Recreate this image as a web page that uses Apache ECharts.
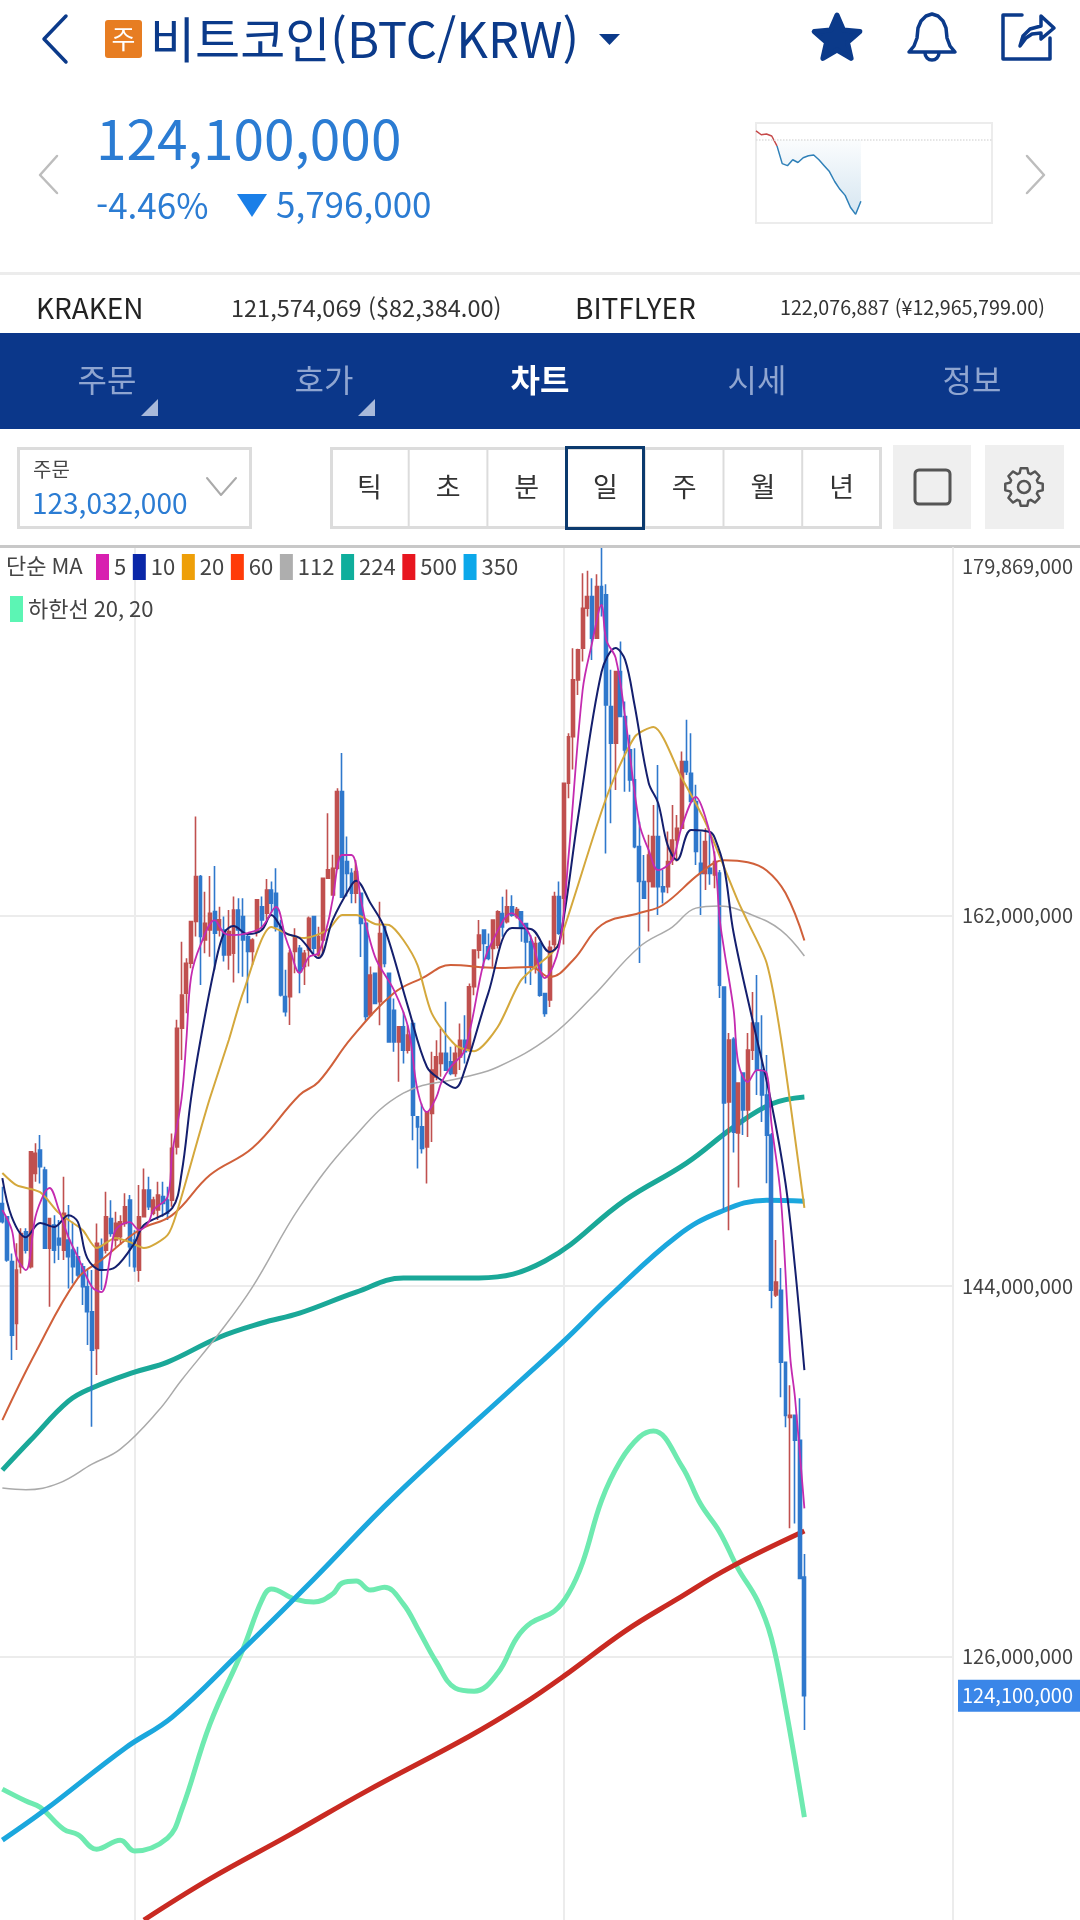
<!DOCTYPE html>
<html lang="ko">
<head>
<meta charset="utf-8">
<title>BTC/KRW</title>
<script src="https://cdn.jsdelivr.net/npm/echarts@6/dist/echarts.min.js"></script>
<style>
  html, body { margin: 0; background: #fff; }
  #chart { width: 1080px; height: 1920px; }
</style>
</head>
<body>
<div id="chart"></div>
<script>
// prices are in millions of KRW
const opens = [
  148.02,147.37,145.19,142.19,144.94,146.64,144.94,149.48,150.61,149.64,
  145.84,146.97,146.32,145.75,146.24,145.75,145.43,144.94,143.97,142.76,
  140.97,145.92,145.75,147.29,146.24,146.4,147.05,148.18,146.24,144.78,
  147.37,148.67,147.54,147.7,148.35,148.18,148.18,150.76,156.53,158.23,
  159.69,161.72,163.9,160.82,161.31,162.2,161.31,161.31,160.1,160.18,
  162.28,161.96,160.99,160.26,161.23,162.44,162.12,163.25,163.09,161.47,
  158.07,158.07,160.26,160.42,159.53,160.34,161.96,160.1,160.82,163.82,
  163.01,164.31,168.03,164.63,164.06,163.09,163.09,161.63,157.18,159.2,
  157.82,161.46,159.2,157.41,155.87,156.6,155.47,156.76,152.23,151.74,
  150.77,152.39,154.17,154.82,155.31,154.9,154.33,155.14,155.95,155.47,
  158.55,160.33,161.3,160.49,160.41,160.57,162.11,161.71,162.43,161.97,
  162.19,161.62,160.73,159.44,160.65,158.22,157.91,160.6,162.93,162.85,
  168.44,170.7,173.46,175,176.94,177.51,175.48,178,177.59,172.16,
  170.38,173.86,171.68,170.06,168.6,165.36,163.66,163.66,163.41,165.85,
  163.41,163.41,164.71,165.68,166.25,169.49,168.92,167.55,164.55,164.06,
  164.31,163.98,164.08,158.53,152.95,155.99,151.44,154.36,152.56,155.47,
  156.78,154.5,153.29,151.34,143.57,143.8,140.3,137.62,137.72,136.51,129.86
];
const closes = [
  147.13,145.27,141.62,144.78,146.56,145.75,150.53,150.45,149.8,145.84,
  147.29,145.75,146,147.54,145.43,144.94,144.54,143.97,142.76,140.89,
  146.08,144.78,147.37,146.56,147.05,147.13,147.86,145.92,144.94,147.37,
  148.67,147.86,148.18,148.43,148.02,147.54,150.7,156.53,158.15,159.69,
  161.72,163.9,160.99,161.63,162.12,161.15,161.8,160.1,161.23,162.28,
  161.31,160.82,160.26,160.82,162.77,161.8,163.25,162.61,161.47,158.15,
  157.34,160.18,160.99,159.28,160.18,161.88,160.42,160.99,163.82,164.23,
  164.31,168.03,162.9,164.06,163.09,164.15,161.63,157.1,159.12,157.74,
  161.14,159.68,155.87,155.87,156.6,155.47,156.2,152.31,151.74,150.69,
  152.47,154.5,155.14,155.31,154.5,154.33,155.31,155.95,155.39,158.55,
  160.33,161.06,160.65,159.92,161.79,162.19,161.46,162.43,162.03,162.3,
  161.46,160.73,159.52,160.65,158.14,157.25,160.46,162.93,161.15,168.44,
  170.7,173.46,174.92,176.94,177.51,175.48,178,177.1,172.24,170.38,
  173.86,171.68,170.06,168.6,165.36,163.66,162.85,164.95,165.85,163.41,
  163.17,164.63,165.68,166.25,169.49,169,167.55,165.12,164.06,165.6,
  164.06,164.63,158.63,152.9,155.96,151.48,153.87,152.56,155.47,156.78,
  154.5,153.29,151.34,143.8,144.2,140.3,137.72,137.72,136.51,129.8,124.1
];
const lows = [
  147.05,145.19,140.41,140.9,144.62,145.59,144.86,149.07,148.99,145.84,
  143,145.11,145.27,145.27,143.89,144.13,144.46,143.08,141.14,137.17,
  139.68,143.81,145.59,146.4,145.92,146,146.89,144.94,144.7,144.21,
  147.37,147.7,147.45,147.21,147.37,147.21,147.86,150.4,154.99,157.26,
  159.45,160.99,158.64,160.18,160.01,159.37,160.99,159.77,159.37,158.75,
  159.2,159.04,157.75,159.61,160.99,161.31,161.8,162.12,161.23,158.07,
  157.1,156.69,159.2,158.23,158.64,159.53,160.09,160.01,160.18,163.8,
  163.01,164.23,162.9,162.93,162.61,162.61,160,156.9,157.1,157.74,
  156.68,159.5,155.87,155.39,153.93,154.82,155.31,151.09,149.72,150.45,
  148.99,151.01,154,154.17,154.5,154.25,154.17,154.5,154.82,155.39,
  158.14,159.92,159.44,159.84,159.52,160.41,160.98,161.62,161.95,161.87,
  160.73,158.71,158.63,159.19,158.06,157.09,157.56,160.3,161.07,160.6,
  167.71,169.1,172.73,174.35,176.54,174.43,175.48,176.54,165.03,166.49,
  168.11,171.68,168.03,168.03,165.28,159.7,162.85,161.23,163.41,162.04,
  162.6,163.09,164.47,164.63,166.25,168.84,167.55,164.47,162.04,163.25,
  163.5,163.33,158,147.7,146.72,150.5,148.8,151.34,151.25,154.99,
  153.29,151.98,149,142.93,143.47,138.6,137.15,132.24,132.47,129.8,122.43
];
const highs = [
  148.83,147.37,145.59,146.08,146.81,146.81,150.53,150.94,151.34,149.8,
  147.29,147.45,147.21,149.32,147.94,147.13,145.92,145.11,144.78,144.78,
  147.05,146.32,148.59,148.18,147.62,147.45,148.51,148.43,146.72,148.91,
  149.72,149.32,148.35,149.07,149.07,148.83,151.42,156.94,160.74,159.93,
  161.72,166.82,163.98,163.17,163.93,164.42,162.44,161.96,162.28,162.93,
  162.85,162.85,161.15,160.9,162.77,162.93,163.79,163.66,164.31,161.8,
  159.37,160.34,161.39,160.58,160.34,161.96,161.96,161.47,163.82,166.98,
  164.96,168.2,169.91,165.85,164.31,164.71,163.09,161.63,159.53,159.2,
  162.68,161.46,159.2,157.98,156.6,157.33,156.68,156.93,152.23,152.88,
  152.47,155.39,155.95,156.52,157.82,155.63,155.71,156.76,157.17,158.71,
  160.33,161.79,161.3,161.14,161.79,162.27,162.92,163.28,163,162.43,
  162.19,161.62,161.06,160.98,160.73,158.22,160.8,163.17,163.66,168.44,
  170.87,175,174.97,178.64,178.76,178.4,178.59,179.869,178.11,173.95,
  173.86,175.32,172.41,170.79,170.14,166.57,164.95,165.93,167.38,169.33,
  164.22,166.09,167.38,166.9,169.98,171.52,170.87,168.36,166.09,166.25,
  166.09,165.12,164.22,158.53,156.3,156.1,153.87,154.4,156.3,158.29,
  159.12,157.17,155.23,151.44,146.24,144.88,140.3,139.18,137.72,138.55,130.98
];

// moving averages, read as [candle index, price]
const ma5 = [[0,147.7],[2,146.73],[3,145.42],[5,144.78],[7,147.36],[9,148.57],[10,148.77],[12,147.7],[14,146.38],[16,145.42],
  [19,143.96],[21,143.71],[23,145.61],[24,146.73],[27,147.11],[29,146.73],[31,147.11],[32,147.7],[35,148.33],[36,150.47],
  [38,153.14],[39,155.96],[40,159.02],[42,160.58],[45,161.79],[47,161.16],[49,161.06],[52,161.16],[55,161.45],[58,162.43],
  [60,160.97],[61,160.33],[63,159.22],[65,160],[67,160.19],[69,161.65],[70,162.77],[72,164.95],[74,164.95],[75,164.46],
  [76,162.77],[79,160],[83,158.39],[86,156.59],[88,153.53],[90,152.46],[92,153.19],[93,153.87],[95,154.65],[98,155.47],
  [102,159.7],[104,160.82],[108,162.13],[110,161.7],[112,160.97],[115,158.97],[118,160.48],[120,164.86],[123,172.97],[125,175.25],
  [127,177.1],[128,175.4],[130,174.52],[132,171.66],[135,166.5],[137,165.19],[139,164.22],[142,164.71],[144,166.32],[147,167.77],
  [149,166.8],[151,164.86],[152,161.94],[153,160.33],[155,157.42],[156,154.84],[158,153.92],[160,154.5],[162,154.36],[163,151.93],
  [165,148.33],[167,140.55],[168,138.6],[170,133.2]];
const ma10 = [[0,149.25],[2,147.36],[5,146.38],[8,147.07],[11,146.88],[14,147.45],[16,147.12],[18,145.36],[21,144.78],[24,144.93],
  [28,146.09],[30,146.97],[36,147.79],[38,149.5],[40,153.14],[42,155.96],[45,159.51],[47,161.16],[49,161.5],[52,161.11],
  [55,161.31],[57,162.03],[60,161.16],[63,160.92],[67,159.94],[70,161.79],[74,163.49],[75,163.7],[78,162.62],[81,161.4],
  [86,157.56],[90,154.65],[93,154.02],[96,153.63],[98,154.5],[103,158.24],[108,161.4],[112,161.36],[116,160.24],[118,160.67],
  [122,166.75],[127,173.84],[130,175.01],[132,174.43],[134,172.24],[137,168.45],[139,167.48],[141,165.44],[143,164.71],[146,166.17],
  [150,166.07],[151,165.78],[153,164.32],[155,161.16],[159,156.93],[163,152.9],[166,149],[168,144.93],[170,139.92]];
const ma20 = [[0,149.5],[3,148.91],[8,148.57],[12,147.55],[17,146.73],[20,145.85],[24,146.34],[27,146.14],[30,145.85],[35,146.48],
  [37,147.6],[42,151.59],[44,153.14],[48,155.96],[51,158.24],[57,161.45],[61,161.06],[64,160.92],[69,161.31],[72,162.03],
  [75,162.03],[79,161.6],[82,161.55],[85,160.82],[88,159.6],[91,157.27],[96,155.72],[100,155.42],[105,156.59],[110,158.88],
  [116,160.09],[118,160.67],[128,167.72],[134,170.68],[138,171.17],[144,168.69],[149,166.55],[156,162.67],[158,161.7],[162,159.7],
  [165,156.1],[170,147.8]];
const ma60 = [[0,137.49],[7,140.75],[16,144.39],[21,145.27],[29,146.73],[36,147.45],[44,149.4],[53,150.71],[63,153.29],[67,153.92],
  [74,156.06],[83,158.24],[89,158.97],[95,159.6],[105,159.46],[112,159.51],[116,159.02],[121,159.85],[127,161.55],[135,162.13],
  [140,162.52],[148,164.08],[153,164.7],[158,164.6],[162,164.2],[166,163.1],[170,160.8]];
const ma112 = [[0,134.19],[5,134.11],[12,134.43],[19,135.35],[25,136.08],[33,137.93],[38,139.44],[46,141.72],[53,143.95],[63,147.84],
  [74,151.1],[85,153.38],[98,154.16],[105,154.65],[116,156.1],[125,158.05],[135,160.48],[142,161.45],[147,162.37],[152,162.47],
  [159,162.03],[165,161.3],[170,160.04]];
const ma224 = [[0,135.06],[6,136.52],[14,138.41],[19,139.05],[28,139.82],[35,140.31],[46,141.52],[55,142.21],[63,142.69],[75,143.71],
  [85,144.4],[101,144.4],[115,145.22],[132,148.18],[145,149.98],[155,151.73],[163,152.85],[170,153.19]];
const ma500 = [[30,113.2],[44,115.2],[61,117.35],[77,119.44],[99,122.13],[110,123.64],[119,125.05],[132,127.24],[143,128.79],[154,130.3],[170,132.1]];
const ma350 = [[0,117.08],[9,118.54],[26,121.55],[36,123.06],[50,126.12],[66,129.76],[83,133.75],[110,139.44],[119,141.33],[129,143.57],
  [143,146.43],[152,147.6],[162,148.18],[170,148.13]];
const lowerBand = [[0,119.56],[5,118.98],[8,118.68],[13,117.61],[16,117.35],[20,116.64],[25,117.08],[28,116.55],[35,117.18],[38,118.54],
  [44,122.72],[51,126.36],[55,128.74],[57,129.28],[62,128.79],[66,128.65],[70,129.04],[72,129.57],[75,129.67],[78,129.23],
  [81,129.37],[85,128.55],[88,127.38],[92,125.73],[96,124.47],[100,124.32],[105,125.2],[109,126.9],[112,127.63],[117,128.21],
  [120,129.06],[123,130.57],[127,133.58],[131,135.5],[135,136.66],[138,136.96],[144,135.26],[148,133.41],[152,132.07],[156,130.25],
  [160,128.74],[163,126.9],[166,123.55],[170,118.2]];

const yTicks = [126, 144, 162];
const yTop = 179.869;
const lastPrice = 124.1;
const monthStarts = [28, 119];
const slotCount = 202;

const legendNames = ['5', '10', '20', '60', '112', '224', '500', '350'];
const legendColors = ['#d81fb0', '#0a27a8', '#ee9f08', '#ff3b08', '#aeaeae', '#0fae9c', '#e8161f', '#0ca8ea'];
const lowerName = '하한선 20, 20';

const sparkPrices = [130.76,130.39,130.46,130.27,129.34,127.66,127.47,128.03,127.77,128.22,128.4,128.48,128.03,127.47,126.91,125.97,125.23,124.66,123.54,122.87,124.1];
const sparkPrevClose = 129.9;
const sparkSlots = 45;

const timeButtons = ['틱', '초', '분', '일', '주', '월', '년'];
const tabs = ['주문', '호가', '차트', '시세', '정보'];

const navy = '#0b3a8a';
const priceBlue = '#2b7cd3';
const font = '"Noto Sans CJK KR", "Noto Sans", sans-serif';

const fmtWon = v => Math.round(v * 1e6).toLocaleString('en-US');

function text(x, y, str, size, fill, extra) {
  return {
    type: 'text', x, y,
    style: Object.assign({ text: str, fontSize: size, fontFamily: font, fill, align: 'left', verticalAlign: 'middle' }, extra)
  };
}

function rect(x, y, width, height, style, r) {
  return { type: 'rect', shape: { x, y, width, height, r: r || 0 }, style };
}

function poly(points, style, open) {
  return { type: open ? 'polyline' : 'polygon', shape: { points }, style };
}

function starPoints(cx, cy, R, r) {
  const pts = [];
  for (let i = 0; i < 10; i++) {
    const a = -Math.PI / 2 + i * Math.PI / 5;
    const d = i % 2 ? r : R;
    pts.push([cx + d * Math.cos(a), cy + d * Math.sin(a)]);
  }
  return pts;
}

function gearPoints(cx, cy, R, r, teeth) {
  const pts = [];
  const step = Math.PI * 2 / teeth;
  for (let i = 0; i < teeth; i++) {
    const a = i * step;
    [[-0.3, r], [-0.17, R], [0.17, R], [0.3, r]].forEach(([k, d]) => {
      pts.push([cx + d * Math.cos(a + k * step * 1.3), cy + d * Math.sin(a + k * step * 1.3)]);
    });
  }
  return pts;
}

function buildHeader() {
  const line = (color, w) => ({ stroke: color, lineWidth: w, fill: 'none', lineCap: 'round', lineJoin: 'round' });
  const items = [
    // top bar
    poly([[66, 16], [44, 39], [66, 62]], line(navy, 3.5), true),
    rect(105, 20, 37, 38, { fill: '#e77d22' }, 3),
    text(123.5, 39, '주', 26, '#fff', { align: 'center' }),
    text(150, 39, '비트코인(BTC/KRW)', 49, navy),
    poly([[599, 34], [620, 34], [609.5, 45]], { fill: navy }),
    poly(starPoints(837, 39, 24, 11), { fill: navy, stroke: navy, lineWidth: 5, lineJoin: 'round' }),
    // bell
    poly([[909, 52], [914, 46], [917, 38], [918, 28], [921, 21], [926, 16], [932, 14], [938, 16], [943, 21], [946, 28], [947, 38], [950, 46], [955, 52]],
      line(navy, 3.5)),
    { type: 'arc', shape: { cx: 932, cy: 53, r: 7, startAngle: 0, endAngle: Math.PI, clockwise: true }, style: line(navy, 3.5) },
    // share
    poly([[1022, 15], [1003, 15], [1003, 59], [1050, 59], [1050, 38]], line(navy, 3.5), true),
    poly([[1020, 46], [1023, 36], [1030, 29], [1041, 26], [1041, 16], [1054, 28], [1041, 39], [1041, 33], [1032, 34], [1026, 38]], line(navy, 3.5)),

    // price block
    poly([[57, 156], [40, 175], [57, 193]], line('#bdbdbd', 2.5), true),
    poly([[1027, 156], [1044, 175], [1027, 193]], line('#bdbdbd', 2.5), true),
    text(96, 139, '124,100,000', 55, priceBlue),
    text(96, 206, '-4.46%', 35, priceBlue),
    poly([[237, 194], [267, 194], [252, 217]], { fill: '#1a7fe8' }),
    text(276, 205, '5,796,000', 35, priceBlue),
    rect(0, 272, 1080, 3, { fill: '#ececec' }),

    // exchange quotes
    text(36, 308, 'KRAKEN', 28, '#222'),
    text(231, 308, '121,574,069 ($82,384.00)', 23.5, '#333'),
    text(575, 308, 'BITFLYER', 28, '#222'),
    text(780, 308, '122,076,887 (¥12,965,799.00)', 19.7, '#333'),

    // tab band
    rect(0, 333, 1080, 96, { fill: '#0b378a' }),
    poly([[158, 399], [158, 416], [141, 416]], { fill: '#a8b9da' }),
    poly([[375, 399], [375, 416], [358, 416]], { fill: '#a8b9da' }),

    // order selector
    rect(18.5, 448.5, 232, 79, { fill: '#fff', stroke: '#dcdcdc', lineWidth: 3 }),
    text(33, 469, '주문', 20, '#444'),
    text(32, 503, '123,032,000', 28, priceBlue),
    poly([[207, 478], [221, 495], [236, 478]], line('#aaa', 2), true),

    // right square and gear buttons
    rect(893, 445, 78, 84, { fill: '#efefef' }),
    rect(915, 470, 35, 34, { fill: 'none', stroke: '#555', lineWidth: 3 }, 4),
    rect(985, 445, 79, 84, { fill: '#efefef' }),
    poly(gearPoints(1024, 487, 19, 14.5, 8), { fill: 'none', stroke: '#555', lineWidth: 2.5, lineJoin: 'round' }),
    { type: 'circle', shape: { cx: 1024, cy: 487, r: 6 }, style: { fill: 'none', stroke: '#555', lineWidth: 2.5 } },

    // chart top rule, indicator caption, top of the price scale
    rect(0, 545, 1080, 3, { fill: '#c8c8c8' }),
    text(6, 566, '단순 MA', 22, '#444'),
    text(962, 566, fmtWon(yTop), 20, '#444')
  ];

  tabs.forEach((name, i) => {
    const active = i === 2;
    items.push(text([107, 324, 540, 757, 972][i], 380, name, 32, active ? '#fff' : '#8fa5d0',
      { align: 'center', fontWeight: active ? 'bold' : 'normal' }));
  });

  // period buttons
  const cellW = 78.7;
  items.push(rect(331.5, 448.5, 549, 79, { fill: '#fff', stroke: '#dcdcdc', lineWidth: 3 }));
  timeButtons.forEach((name, i) => {
    const x = 330 + i * cellW;
    if (i > 0) items.push(rect(x - 1, 449, 2, 78, { fill: '#dcdcdc' }));
    items.push(text(x + cellW / 2, 487, name, 27, '#333', { align: 'center' }));
  });
  items.push(rect(566.5, 447.5, 77, 81, { fill: 'none', stroke: '#0b3a6e', lineWidth: 3 }));

  return items;
}

function maSeries(name, data, color, width, z, smooth) {
  return {
    name, type: 'line', data, z,
    xAxisIndex: 0, yAxisIndex: 0,
    symbol: 'none', smooth: smooth,
    lineStyle: { color, width }, itemStyle: { color },
    silent: true, animation: false
  };
}

const days = Array.from({ length: slotCount }, (_, i) => String(i));
const candles = opens.map((o, i) => [o, closes[i], lows[i], highs[i]]);

const option = {
  animation: false,
  backgroundColor: '#fff',
  textStyle: { fontFamily: font },
  graphic: { elements: buildHeader() },
  legend: [
    {
      left: 91, top: 549, icon: 'rect', itemWidth: 13, itemHeight: 26, itemGap: 6.6,
      selectedMode: false, textStyle: { fontSize: 22, color: '#444' },
      data: legendNames.map((name, i) => ({ name, itemStyle: { color: legendColors[i] } }))
    },
    {
      left: 5, top: 591, icon: 'rect', itemWidth: 13, itemHeight: 26,
      selectedMode: false, textStyle: { fontSize: 22, color: '#444' },
      data: [{ name: lowerName, itemStyle: { color: '#5cf5b4' } }]
    }
  ],
  grid: [
    { left: -1, top: 548, width: 954, height: 1372 },
    { left: 756, top: 123, width: 236, height: 100, show: true, borderColor: '#ececec', borderWidth: 2, backgroundColor: '#fff' }
  ],
  xAxis: [
    { type: 'category', data: days, gridIndex: 0, boundaryGap: true, axisLine: { show: false }, axisTick: { show: false }, axisLabel: { show: false }, splitLine: { show: false } },
    { type: 'category', data: Array.from({ length: sparkSlots + 1 }, (_, i) => String(i)), gridIndex: 1, boundaryGap: false, show: false }
  ],
  yAxis: [
    {
      type: 'value', gridIndex: 0, position: 'right', min: 113.2, max: yTop, scale: true,
      axisLine: { show: true, lineStyle: { color: '#ececec', width: 2 } },
      axisTick: { show: false, customValues: yTicks },
      axisLabel: { customValues: yTicks, formatter: fmtWon, margin: 9, fontSize: 20, color: '#444', fontFamily: font },
      splitLine: { show: true, lineStyle: { color: '#ececec', width: 2 } }
    },
    { type: 'value', gridIndex: 1, min: 122.05, max: 131.5, show: false, splitLine: { show: false } }
  ],
  series: [
    {
      name: 'month-lines', type: 'line', data: [], z: 1, silent: true, symbol: 'none',
      markLine: {
        z: 1, silent: true, symbol: 'none', animation: false, label: { show: false },
        lineStyle: { color: '#ececec', width: 2, type: 'solid' },
        data: monthStarts.map(d => ({ xAxis: d }))
      }
    },
    maSeries(lowerName, lowerBand, '#6eeab0', 5, 2, 0.4),
    maSeries('500', ma500, '#c92a22', 5, 2, 0.4),
    maSeries('350', ma350, '#1ba7dd', 5, 2, 0.4),
    maSeries('224', ma224, '#1aa898', 5, 2, 0.4),
    {
      name: 'BTC/KRW', type: 'candlestick', data: candles, z: 3, silent: true,
      barWidth: 3.4,
      itemStyle: { color: '#c0504f', color0: '#2f78cc', borderColor: '#c0504f', borderColor0: '#2f78cc', borderWidth: 1.6 },
      markLine: {
        silent: true, symbol: 'none', animation: false,
        lineStyle: { color: 'rgba(0,0,0,0)', width: 0 },
        data: [
          {
            yAxis: lastPrice,
            label: {
              show: true, position: 'end', distance: 5, formatter: () => fmtWon(lastPrice), color: '#fff', fontSize: 20,
              fontFamily: font, backgroundColor: '#3a86e8', padding: [6, 4, 6, 4], align: 'left', width: 114
            }
          }
        ]
      }
    },
    maSeries('112', ma112, '#aaaaaa', 1.5, 4, 0.4),
    maSeries('60', ma60, '#d0603a', 2, 4, 0.4),
    maSeries('20', ma20, '#d4a83c', 2, 4, 0.25),
    maSeries('10', ma10, '#141f6e', 2, 5, 0.35),
    maSeries('5', ma5, '#c42bb0', 1.8, 5, 0.35),
    {
      name: 'spark-down', type: 'line', xAxisIndex: 1, yAxisIndex: 1, symbol: 'none', silent: true,
      data: sparkPrices.map((v, i) => (i < 4 ? null : v)),
      lineStyle: { color: '#2f80b8', width: 1.5 },
      areaStyle: {
        origin: sparkPrevClose,
        color: {
          type: 'linear', x: 0, y: 0, x2: 0, y2: 1,
          colorStops: [{ offset: 0, color: 'rgba(47,128,184,0.03)' }, { offset: 1, color: 'rgba(47,128,184,0.28)' }]
        }
      },
      markLine: {
        silent: true, symbol: 'none', animation: false, label: { show: false },
        lineStyle: { color: '#dddddd', width: 1.5, type: 'dotted' },
        data: [{ yAxis: sparkPrevClose }]
      }
    },
    {
      name: 'spark-up', type: 'line', xAxisIndex: 1, yAxisIndex: 1, symbol: 'none', silent: true,
      data: sparkPrices.slice(0, 5),
      lineStyle: { color: '#c64a4a', width: 1.5 }
    }
  ]
};

const chart = echarts.init(document.getElementById('chart'), null, { renderer: 'canvas' });
chart.setOption(option);
window.addEventListener('resize', () => chart.resize());
</script>
</body>
</html>
